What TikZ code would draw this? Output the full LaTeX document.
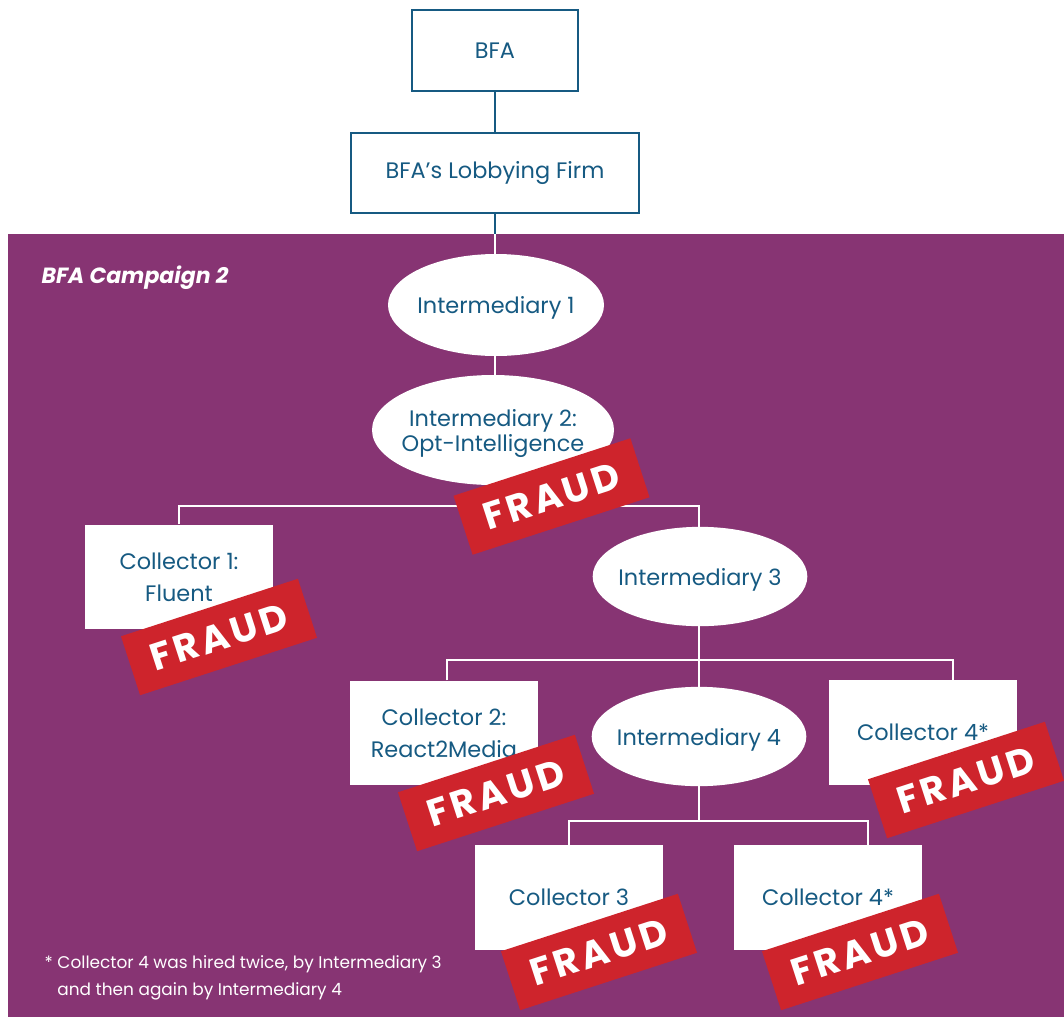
\documentclass[tikz,border=0pt]{standalone}
\usepackage{fontspec}
\setmainfont{Poppins}
\newfontfamily\stampfont[LetterSpace=9]{Poppins Bold}
\usetikzlibrary{shapes.geometric}
\definecolor{navy}{RGB}{22,90,130}
\definecolor{plum}{RGB}{135,52,115}
\definecolor{stampred}{RGB}{206,36,44}
\newcommand{\ovaltext}[1]{\makebox[0pt]{\raisebox{-3pt}[\height][\depth]{\begin{tabular}{@{}c@{}}#1\end{tabular}}}}
\tikzset{
  topbox/.style={draw=navy,line width=1.5pt,fill=white,text=navy,inner sep=0pt,
    font=\fontsize{16.8}{18}\selectfont,minimum width=124.5pt,minimum height=60.5pt},
  collbox/.style={fill=white,text=navy,inner sep=0pt,align=center,
    font=\fontsize{16.8}{24}\selectfont,minimum width=141pt,minimum height=78.5pt},
  oval/.style={ellipse,fill=white,text=navy,inner sep=0pt,
    font=\fontsize{16.8}{18}\selectfont,minimum width=161pt,minimum height=74.5pt},
  bluewire/.style={draw=navy,line width=1.5pt},
  wire/.style={draw=white,line width=1.4pt},
  stamp/.style={fill=stampred,text=white,rotate=18,inner sep=0pt,
    minimum width=139.5pt,minimum height=46.5pt,
    font=\stampfont\fontsize{28.5}{28}\selectfont}
}
\begin{document}
\begin{tikzpicture}[x=0.75pt,y=-0.75pt]
\useasboundingbox (0,0) rectangle (1064,1021);
\fill[white] (0,0) rectangle (1064,1021);
\fill[plum] (8,234) rectangle (1064,1017);

\node[text=white,anchor=west,font=\bfseries\itshape\fontsize{16.5}{18}\selectfont] (title) at (37,278) {BFA Campaign 2};

% nodes
\node[topbox] (bfa) at (495,50.5) {BFA};
\node[topbox,minimum width=216.5pt,minimum height=60pt] (lobby) at (495,173) {BFA’s Lobbying Firm};
\coordinate (ptop) at (495,234);
\node[oval,minimum width=162pt,minimum height=76.5pt] (int1) at (496,305) {\ovaltext{Intermediary 1}};
\node[oval,minimum width=181.5pt,minimum height=82.5pt] (int2) at (493,430) {\ovaltext{Intermediary 2:\\Opt-Intelligence}};
\node[collbox] (col1) at (179,577) {Collector 1:\\Fluent};
\node[oval] (int3) at (700,576.5) {\ovaltext{Intermediary 3}};
\node[collbox] (col2) at (444,733) {Collector 2:\\React2Media};
\node[oval] (int4) at (699,736.5) {\ovaltext{Intermediary 4}};
\node[collbox] (col4a) at (923,732.5) {Collector 4*};
\node[collbox] (col3) at (569,897.5) {Collector 3};
\node[collbox] (col4b) at (828,897.5) {Collector 4*};

\coordinate (b1) at (495,506);
\coordinate (b2) at (699,660);
\coordinate (b3) at (699,821);

% connectors
\draw[bluewire] (bfa.south) -- (lobby.north);
\draw[bluewire] (lobby.south) -- (ptop);
\draw[wire] (ptop) -- (ptop |- int1.north);
\draw[wire] (ptop |- int1.south) -- (ptop |- int2.north);
\draw[wire] (ptop |- int2.south) -- (b1);
\draw[wire] (col1.north) |- (b1) -| (b1 -| b2) -- (b2 |- int3.north);
\draw[wire] (b2 |- int3.south) -- (b2);
\draw[wire] ([xshift=2.5pt]col2.north) |- (b2) -| ([xshift=22.5pt]col4a.north);
\draw[wire] (b2) -- (b2 |- int4.north);
\draw[wire] (b2 |- int4.south) -- (b3);
\draw[wire] (col3.north) |- (b3) -| ([xshift=30pt]col4b.north);

% stamps
\node[stamp] (s2) at (551.5,496.5) {FRAUD};
\node[stamp] (s1) at (219,637) {FRAUD};
\node[stamp] (s3) at (496,793) {FRAUD};
\node[stamp] (s4) at (966,780) {FRAUD};
\node[stamp] (s5) at (599,952) {FRAUD};
\node[stamp] (s6) at (860,952) {FRAUD};

\node[text=white,anchor=north west,align=left,font=\fontsize{12.7}{20}\selectfont] (note) at (40,951)
  {* Collector 4 was hired twice, by Intermediary 3\\\hphantom{* }and then again by Intermediary 4};
\end{tikzpicture}
\end{document}
